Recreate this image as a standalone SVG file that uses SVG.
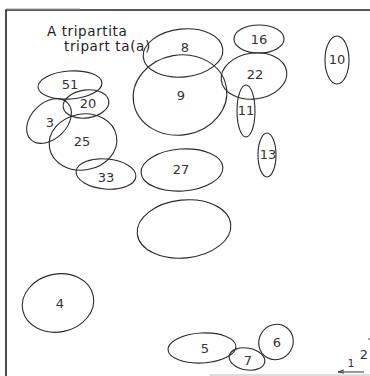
<svg xmlns="http://www.w3.org/2000/svg" width="370" height="376" viewBox="0 0 370 376">
<style>
.o{fill:none;stroke:#2a2a2a;stroke-width:1.1}
.t{font-family:"DejaVu Sans","Liberation Sans",sans-serif;font-size:13px;fill:#333;text-anchor:middle}
.h{font-family:"DejaVu Sans","Liberation Sans",sans-serif;font-size:13.5px;fill:#222;letter-spacing:0.6px}
.f{stroke:#222;stroke-width:1.6;fill:none}
</style>
<rect width="370" height="376" fill="#fff"/>
<g id="frame">
<path class="f" d="M6,376 V10 H370"/>
<path d="M6,9 H80" stroke="#999" stroke-width="1"/>
<path d="M210,375 H370" stroke="#bbb" stroke-width="1"/>
</g>
<g id="title">
<text class="h" x="47" y="36">A tripartita</text>
<text class="h" x="64" y="51">tripart ta(a)</text>
</g>
<g id="n51"><ellipse class="o" cx="70" cy="85" rx="32" ry="14" transform="rotate(-4 70 85)"/><text class="t" x="70" y="89">51</text></g>
<g id="n20"><ellipse class="o" cx="86" cy="104" rx="23" ry="14" transform="rotate(-8 86 104)"/><text class="t" x="88" y="108">20</text></g>
<g id="n3"><ellipse class="o" cx="49" cy="121" rx="26" ry="18" transform="rotate(-45 49 121)"/><text class="t" x="50" y="127">3</text></g>
<g id="n25"><ellipse class="o" cx="83" cy="142" rx="34" ry="28" transform="rotate(-10 83 142)"/><text class="t" x="82" y="146">25</text></g>
<g id="n33"><ellipse class="o" cx="106" cy="174" rx="30" ry="15" transform="rotate(5 106 174)"/><text class="t" x="106" y="182">33</text></g>
<g id="n8"><ellipse class="o" cx="183" cy="53" rx="40" ry="24" transform="rotate(-6 183 53)"/><text class="t" x="185" y="52">8</text></g>
<g id="n9"><ellipse class="o" cx="180" cy="95" rx="47" ry="40" transform="rotate(-10 180 95)"/><text class="t" x="181" y="100">9</text></g>
<g id="n27"><ellipse class="o" cx="182" cy="170" rx="41" ry="21" transform="rotate(-4 182 170)"/><text class="t" x="181" y="174">27</text></g>
<g id="nx"><ellipse class="o" cx="184" cy="229" rx="47" ry="29" transform="rotate(-6 184 229)"/></g>
<g id="n4"><ellipse class="o" cx="58" cy="303" rx="36" ry="29" transform="rotate(-12 58 303)"/><text class="t" x="60" y="308">4</text></g>
<g id="n16"><ellipse class="o" cx="259" cy="39" rx="25" ry="14"/><text class="t" x="259" y="44">16</text></g>
<g id="n22"><ellipse class="o" cx="254" cy="76" rx="33" ry="23" transform="rotate(-8 254 76)"/><text class="t" x="255" y="79">22</text></g>
<g id="n11"><ellipse class="o" cx="246" cy="111" rx="9" ry="26"/><text class="t" x="246" y="115">11</text></g>
<g id="n13"><ellipse class="o" cx="267" cy="155" rx="9" ry="22"/><text class="t" x="268" y="159">13</text></g>
<g id="n10"><ellipse class="o" cx="337" cy="60" rx="12" ry="24"/><text class="t" x="337" y="64">10</text></g>
<g id="n5"><ellipse class="o" cx="202" cy="348" rx="34" ry="15" transform="rotate(-3 202 348)"/><text class="t" x="205" y="353">5</text></g>
<g id="n7"><ellipse class="o" cx="247" cy="359" rx="18" ry="11" transform="rotate(10 247 359)"/><text class="t" x="248" y="365">7</text></g>
<g id="n6"><ellipse class="o" cx="276" cy="342" rx="17" ry="18" transform="rotate(30 276 342)"/><text class="t" x="277" y="347">6</text></g>
<g id="scale">
<text class="t" x="351" y="367" style="font-size:11px">1</text>
<text class="t" x="364" y="359" style="font-size:13px">2</text>
<circle cx="369" cy="339" r="0.8" fill="#333"/>
<path d="M340,372 H364" stroke="#333" stroke-width="1"/>
<path d="M344,370 L338,372 L344,373" stroke="#333" stroke-width="1" fill="none"/>
</g>
</svg>
